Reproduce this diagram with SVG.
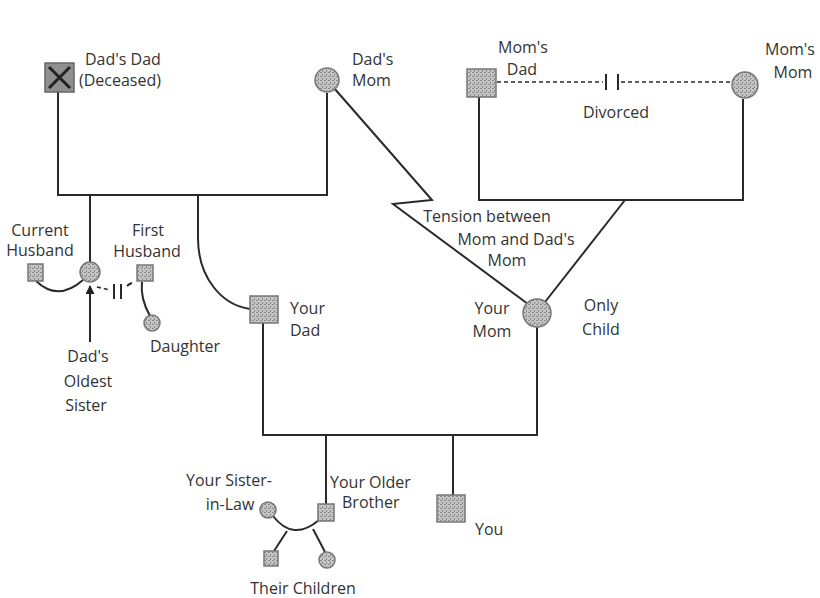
<svg xmlns="http://www.w3.org/2000/svg" width="820" height="598" viewBox="0 0 820 598">
<defs>
<pattern id="tex" width="4" height="4" patternUnits="userSpaceOnUse">
<rect width="4" height="4" fill="#c4c4c4"/>
<rect x="0" y="0" width="2" height="1" fill="#8a8a8a"/>
<rect x="2" y="2" width="1" height="2" fill="#8a8a8a"/>
</pattern>
<marker id="arr" viewBox="0 0 10 10" refX="9" refY="5" markerWidth="16" markerHeight="9" orient="auto" markerUnits="userSpaceOnUse">
<path d="M0,0 L10,5 L0,10 Z" fill="#222"/>
</marker>
</defs>
<style>
.ln{fill:none;stroke:#2a2a2a;stroke-width:2}
.dash{fill:none;stroke:#2a2a2a;stroke-width:1.6;stroke-dasharray:4 3}
.nd{fill:url(#tex);stroke:#777;stroke-width:1.5}
text{font-family:"Open Sans","Liberation Sans",sans-serif;font-size:16px;fill:#333}
.c{text-anchor:middle}
</style>
<rect width="820" height="598" fill="#fff"/>
<g id="connectors">
<path class="ln" d="M58,92 V195 H327 V93"/>
<path class="ln" d="M90,195 V262"/>
<path class="ln" d="M198,195 V238 C198,278 222,305 250,309"/>
<path class="ln" d="M36,281 Q58,302 83,280"/>
<path class="dash" d="M97,287 L110,290"/>
<path class="ln" d="M114,284 V299 M121,284 V299"/>
<path class="ln" d="M127,286 Q129,284 132,283"/>
<path class="ln" d="M142,282 Q140,298 150,316"/>
<path class="ln" d="M90,342 V286" marker-end="url(#arr)"/>
<path class="ln" d="M334,88 L432,200 L393,204 L528,304"/>
<path class="ln" d="M479,97 V200 H743 V99"/>
<path class="ln" d="M625,200 L545,302"/>
<path class="dash" d="M497,82 H603"/>
<path class="ln" d="M606,74 V90 M618,74 V90"/>
<path class="dash" d="M621,82 H732"/>
<path class="ln" d="M263,323 V435 H537 V327"/>
<path class="ln" d="M326,435 V504"/>
<path class="ln" d="M453,435 V495"/>
<path class="ln" d="M273,516 Q293,542 319,520"/>
<path class="ln" d="M287,531 L274,551"/>
<path class="ln" d="M313,529 L325,552"/>
</g>
<g id="dads-dad">
<rect x="45" y="63" width="29" height="29" fill="#8f8f8f" stroke="#666" stroke-width="1.5"/>
<path d="M49,67 L70,88 M70,67 L49,88" stroke="#222" stroke-width="3"/>
<text x="85" y="65">Dad's Dad</text>
<text x="79" y="86">(Deceased)</text>
</g>
<g id="dads-mom">
<circle class="nd" cx="327" cy="80" r="12"/>
<text x="352" y="65">Dad's</text>
<text x="352" y="86">Mom</text>
</g>
<g id="moms-dad">
<rect class="nd" x="467" y="69" width="29" height="28"/>
<text class="c" x="523" y="53">Mom's</text>
<text class="c" x="522" y="75">Dad</text>
</g>
<g id="moms-mom">
<circle class="nd" cx="745" cy="85" r="13"/>
<text class="c" x="790" y="55">Mom's</text>
<text class="c" x="793" y="78">Mom</text>
</g>
<g id="divorced-label">
<text class="c" x="616" y="118">Divorced</text>
</g>
<g id="current-husband">
<rect class="nd" x="28" y="264" width="15" height="17"/>
<text class="c" x="40" y="236">Current</text>
<text class="c" x="40" y="256">Husband</text>
</g>
<g id="dads-oldest-sister">
<circle class="nd" cx="90" cy="272" r="10"/>
<text class="c" x="88" y="362">Dad's</text>
<text class="c" x="88" y="387">Oldest</text>
<text class="c" x="86" y="411">Sister</text>
</g>
<g id="first-husband">
<rect class="nd" x="137" y="265" width="16" height="16"/>
<text class="c" x="148" y="236">First</text>
<text class="c" x="147" y="257">Husband</text>
</g>
<g id="daughter">
<circle class="nd" cx="152" cy="323" r="8"/>
<text class="c" x="185" y="352">Daughter</text>
</g>
<g id="your-dad">
<rect class="nd" x="250" y="296" width="28" height="27"/>
<text x="290" y="314">Your</text>
<text x="290" y="336">Dad</text>
</g>
<g id="tension-label">
<text class="c" x="487" y="222">Tension between</text>
<text class="c" x="516" y="245">Mom and Dad's</text>
<text class="c" x="507" y="266">Mom</text>
</g>
<g id="your-mom">
<circle class="nd" cx="537" cy="313" r="14"/>
<text class="c" x="492" y="314">Your</text>
<text class="c" x="492" y="337">Mom</text>
<text class="c" x="601" y="311">Only</text>
<text class="c" x="601" y="335">Child</text>
</g>
<g id="older-brother">
<rect class="nd" x="318" y="504" width="16" height="17"/>
<text x="330" y="488">Your Older</text>
<text x="342" y="508">Brother</text>
</g>
<g id="you">
<rect class="nd" x="437" y="495" width="28" height="27"/>
<text x="475" y="535">You</text>
</g>
<g id="sister-in-law">
<circle class="nd" cx="268" cy="510" r="8"/>
<text class="c" x="229" y="486">Your Sister-</text>
<text class="c" x="230" y="510">in-Law</text>
</g>
<g id="child-son">
<rect class="nd" x="264" y="551" width="14" height="15"/>
</g>
<g id="child-daughter">
<circle class="nd" cx="327" cy="560" r="8"/>
</g>
<g id="their-children">
<text class="c" x="303" y="594">Their Children</text>
</g>
</svg>
